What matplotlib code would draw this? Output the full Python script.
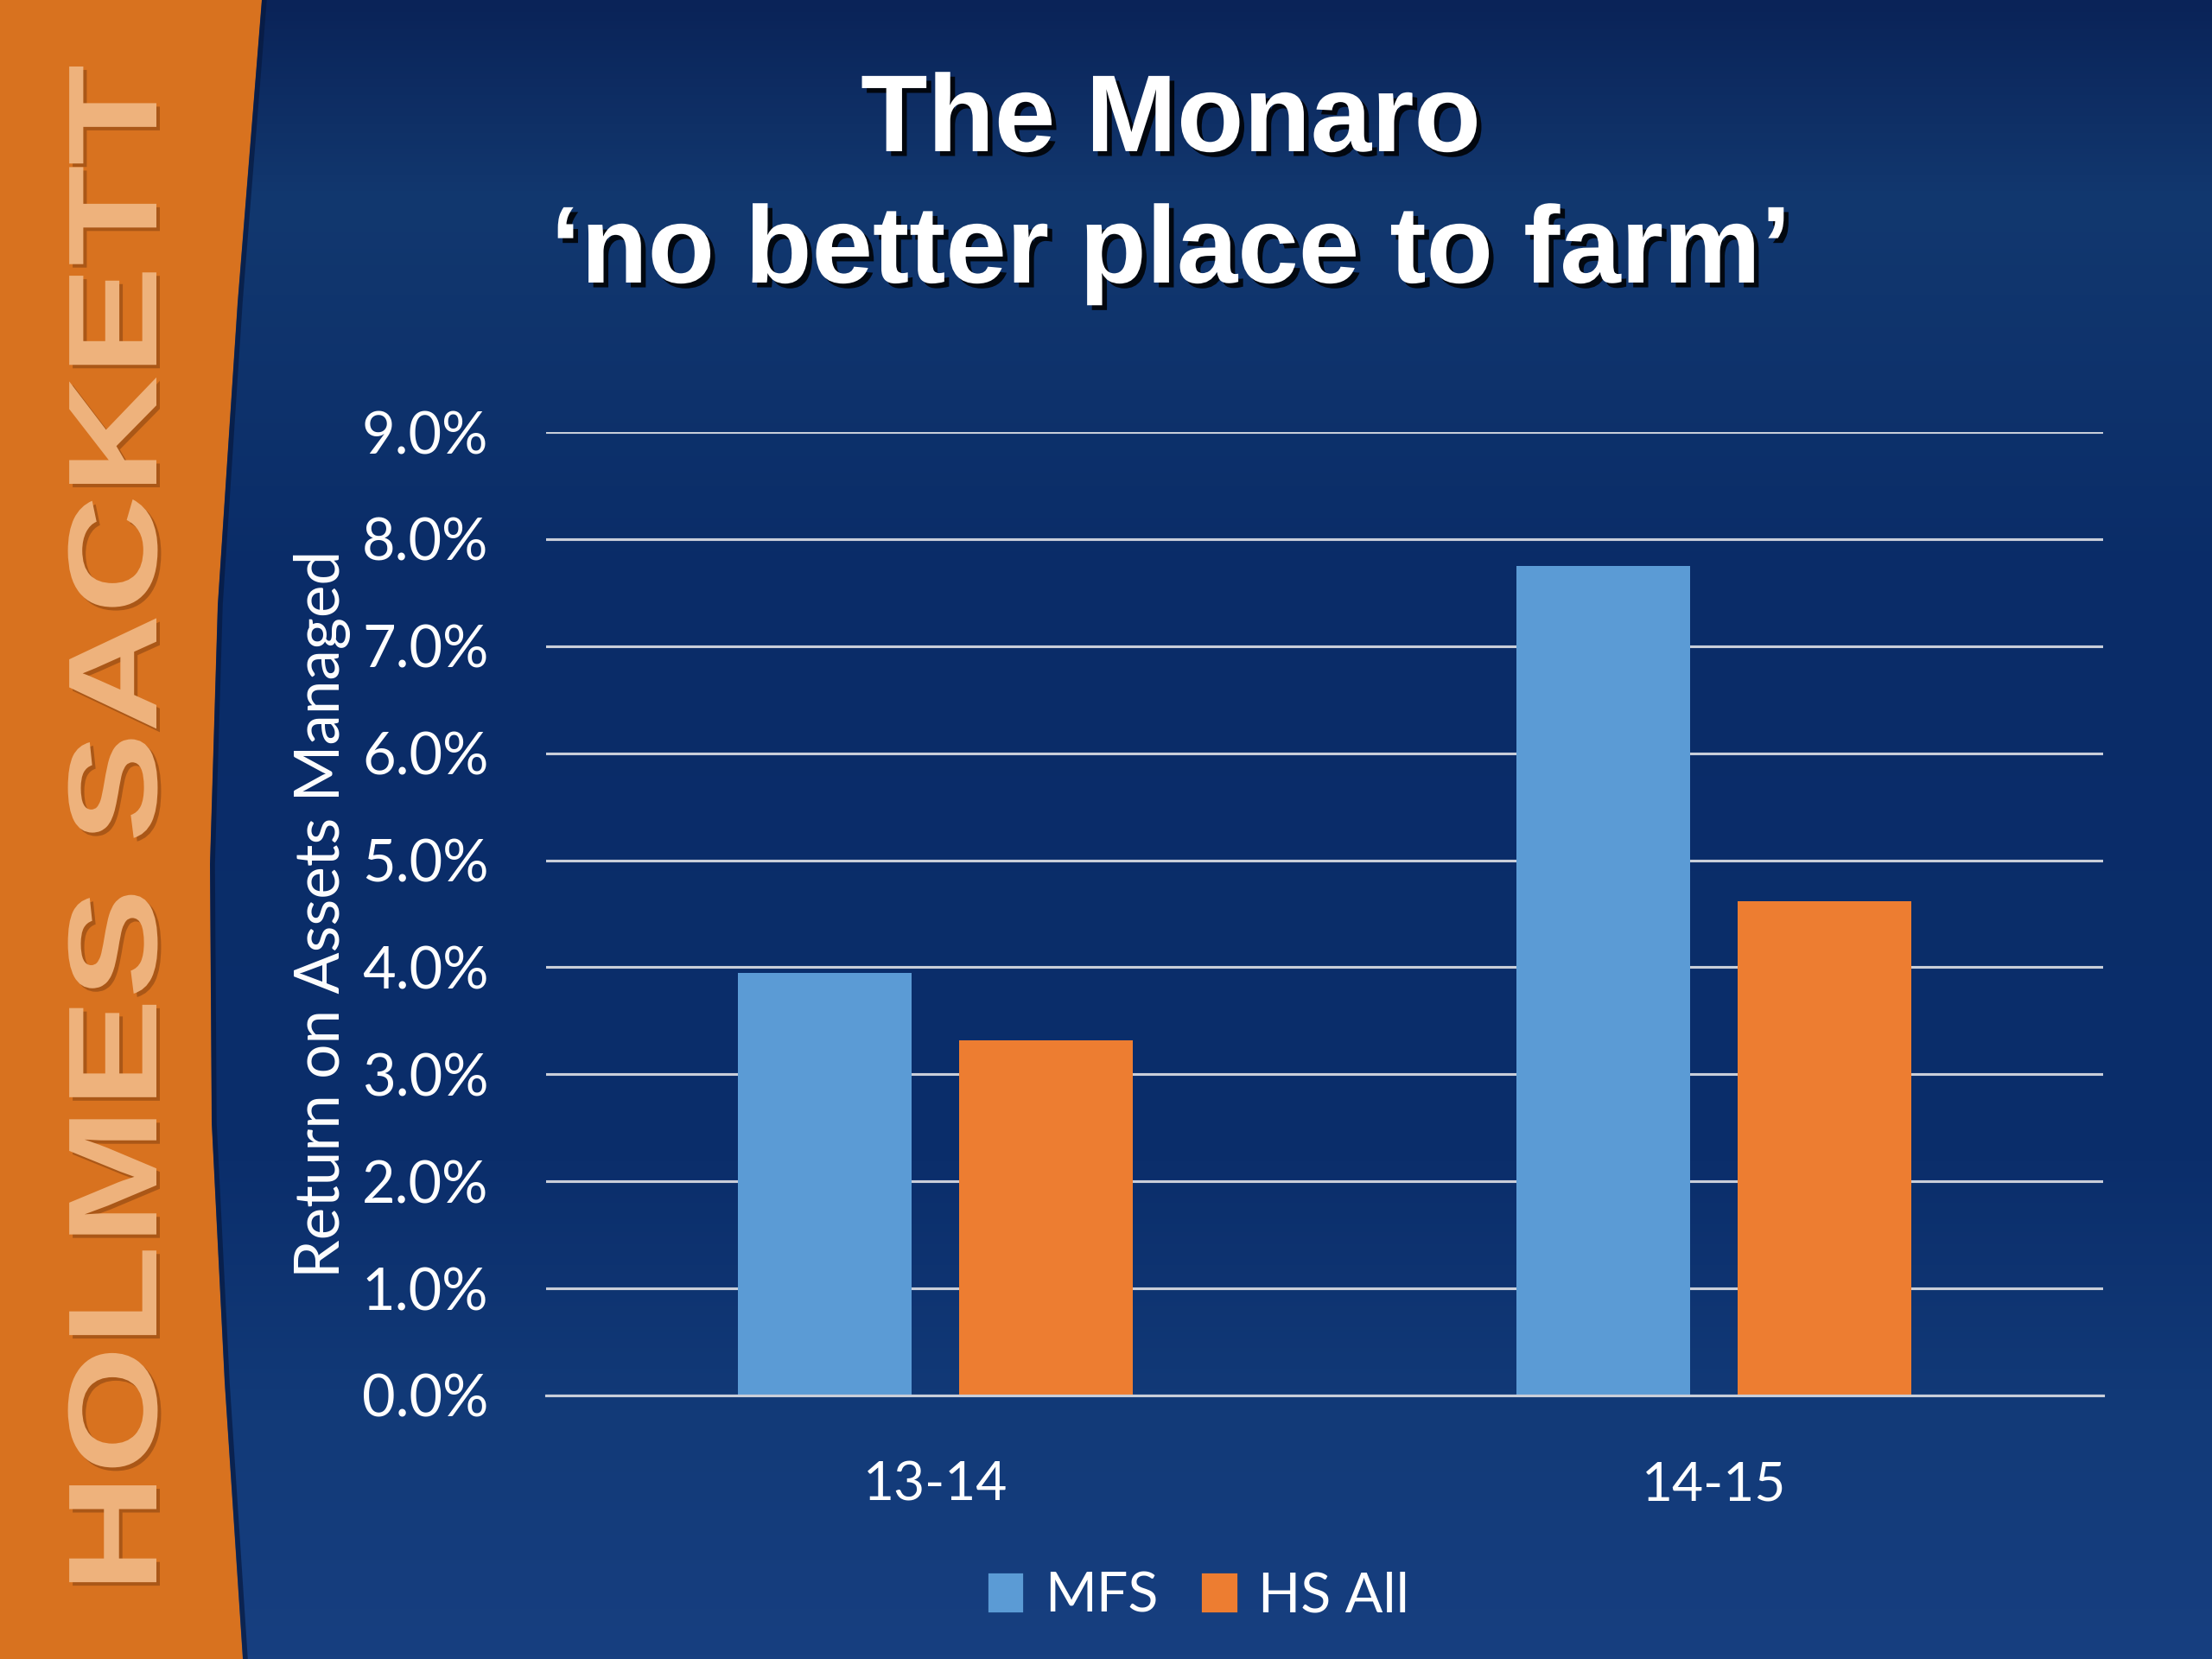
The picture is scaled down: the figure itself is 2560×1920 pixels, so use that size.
import numpy as np
import matplotlib
matplotlib.use('Agg')
import matplotlib.pyplot as plt
from matplotlib import patheffects
from matplotlib.patches import Patch, Polygon
from matplotlib.transforms import Affine2D
from matplotlib.colors import to_rgb

# data
years = ['13-14', '14-15']
mfs = [3.95, 7.75]
hs_all = [3.32, 4.62]
series_names = ['MFS', 'HS All']
yticks = [0, 1, 2, 3, 4, 5, 6, 7, 8, 9]

blue = '#5b9bd5'
orange = '#ed7d31'
grid_col = '#c9ced9'


class Stretch(patheffects.AbstractPathEffect):
    # stretch text along its baseline (keeps it real text)
    def __init__(self, sx, offset=(0, 0), color=None, alpha=None):
        super().__init__(offset)
        self._sx = sx
        self._color = color
        self._alpha = alpha

    def draw_path(self, renderer, gc, tpath, affine, rgbFace=None):
        xs = tpath.vertices[:, 0]
        cx = (xs.min() + xs.max()) / 2
        st = Affine2D().translate(-cx, 0).scale(self._sx, 1).translate(cx, 0)
        gc0 = renderer.new_gc()
        gc0.copy_properties(gc)
        if self._color is not None:
            rgbFace = to_rgb(self._color)
        if self._alpha is not None:
            gc0.set_alpha(self._alpha)
        renderer.draw_path(gc0, tpath, st + affine + self._offset_transform(renderer), rgbFace)
        gc0.restore()


fig = plt.figure(figsize=(16, 12), dpi=160)

# background
bg = fig.add_axes([0, 0, 1, 1], zorder=0)
bg.set_xlim(0, 2560)
bg.set_ylim(1920, 0)
bg.axis('off')
stops = [0.0, 0.12, 0.35, 0.7, 0.85, 1.0]
cols = ['#0a2358', '#12386f', '#0a2c68', '#0b2e6b', '#123a78', '#173f80']
yy = np.linspace(0, 1, 400)
rgb = np.array([to_rgb(c) for c in cols])
grad = np.stack([np.interp(yy, stops, rgb[:, k]) for k in range(3)], axis=-1)
bg.imshow(grad[:, None, :], extent=[0, 2560, 1920, 0], aspect='auto')

edge_y = [0, 350, 700, 1000, 1300, 1600, 1920]
edge_x = [303, 275, 252, 243, 245, 260, 281]
band = Polygon([(0, 0)] + list(zip(edge_x, edge_y)) + [(0, 1920)],
               closed=True, facecolor='#d8721f', edgecolor='none')
bg.add_patch(band)
bg.plot(np.array(edge_x) + 3, edge_y, color='#07193f', lw=2.5, alpha=0.7)

bg.text(143, 960, 'HOLMES SACKETT', rotation=90, ha='center', va='center',
        fontsize=66, fontweight='bold', family='Liberation Sans', color='#eeb27c',
        path_effects=[Stretch(1.30, offset=(1.8, -1.8), color='#8c4612', alpha=0.6),
                      Stretch(1.30)])

# title
title_fx = [patheffects.withSimplePatchShadow(offset=(2.5, -2.5), shadow_rgbFace='black', alpha=0.85)]
fig.text(1355 / 2560, 1 - 175 / 1920, 'The Monaro', ha='center', va='baseline',
         fontsize=57, fontweight='bold', family='Liberation Sans', color='white',
         path_effects=title_fx)
fig.text(1355 / 2560, 1 - 327 / 1920, '\u2018no better place to farm\u2019', ha='center',
         va='baseline', fontsize=57, fontweight='bold', family='Liberation Sans',
         color='white', path_effects=title_fx)

# chart
ax = fig.add_axes([632 / 2560, 1 - 1615 / 1920, 1802 / 2560, 1115 / 1920], zorder=1)
ax.patch.set_alpha(0)
x = np.arange(len(years))
w = 0.223
ax.bar(x - 0.142, mfs, w, color=blue, zorder=2)
ax.bar(x + 0.142, hs_all, w, color=orange, zorder=2)

ax.set_xlim(-0.5, 1.5)
ax.set_ylim(0, 9)
ax.set_yticks(yticks)
ax.set_yticklabels(['%.1f%%' % t for t in yticks])
ax.set_xticks(x)
ax.set_xticklabels(years)
ax.yaxis.grid(True, color=grid_col, lw=1.4, zorder=1)
ax.set_axisbelow(True)
for s in ['top', 'right', 'left']:
    ax.spines[s].set_visible(False)
ax.spines['bottom'].set_color(grid_col)
ax.spines['bottom'].set_linewidth(1.4)
ax.tick_params(axis='both', length=0, colors='white', labelsize=30)
ax.tick_params(axis='y', pad=30)
ax.tick_params(axis='x', pad=34, labelsize=28)
for lab in ax.get_xticklabels() + ax.get_yticklabels():
    lab.set_family('Lato')

ax.set_ylabel('Return on Assets Managed', fontsize=32, family='Lato', color='white',
              ha='center', va='center')
ax.yaxis.set_label_coords(-0.144, 0.5)

handles = [Patch(color=blue), Patch(color=orange)]
leg = fig.legend(handles, series_names, loc='center', bbox_to_anchor=(1388 / 2560, 1 - 1848 / 1920),
                 ncol=2, frameon=False, handlelength=0.6, handleheight=0.65,
                 handletextpad=0.4, columnspacing=0.8, prop={'family': 'Lato', 'size': 29})
for t in leg.get_texts():
    t.set_color('white')

fig.savefig('out.png', dpi=160)
